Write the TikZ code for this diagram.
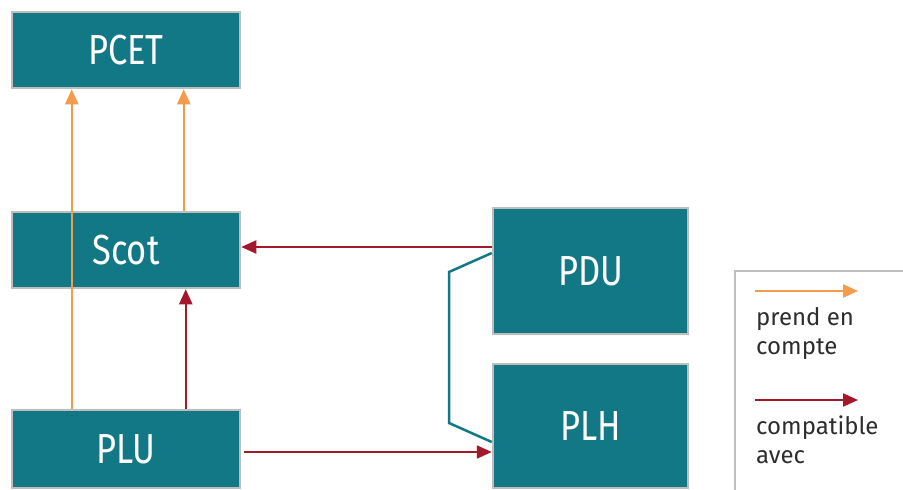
\documentclass[tikz,border=0pt]{standalone}
\usepackage{fontspec}
\setmainfont{Fira Sans}
\newfontfamily\planfont{Fira Sans}[FakeStretch=0.82]
\usetikzlibrary{arrows.meta}
\definecolor{teal}{RGB}{19,120,134}
\definecolor{boxline}{RGB}{190,190,190}
\definecolor{orangeline}{RGB}{244,155,76}
\definecolor{redline}{RGB}{163,24,42}
\definecolor{legtext}{RGB}{45,45,45}
\begin{document}
\begin{tikzpicture}[x=1pt, y=-1pt,
  plan/.style = {draw=boxline, line width=2.5pt, fill=teal, text=white,
    inner sep=0pt, font=\planfont\fontsize{42}{46}\selectfont},
  prend/.style = {draw=orangeline, line width=2.2pt,
    -{Triangle[length=15pt, width=13pt]}},
  compat/.style = {draw=redline, line width=2.2pt,
    -{Triangle[length=15pt, width=13pt]}},
  lien/.style = {draw=teal, line width=2.5pt},
  legende/.style = {anchor=north west, align=left, inner sep=0pt,
    text=legtext, font=\fontsize{24}{29}\selectfont}]
\useasboundingbox (0,0) rectangle (903,490);
% documents
\node[plan, minimum width=228pt, minimum height=76pt] (PCET) at (126,50) {PCET};
\node[plan, minimum width=228pt, minimum height=76pt] (Scot) at (126,250) {Scot};
\node[plan, minimum width=228pt, minimum height=78pt] (PLU) at (126,449) {PLU};
\node[plan, minimum width=195pt, minimum height=126pt] (PDU) at (590.5,271) {PDU};
\node[plan, minimum width=195pt, minimum height=124pt] (PLH) at (590.5,426) {PLH};
% liens
\draw[prend] ([xshift=61pt]PLU.north west) -- ([xshift=61pt]PCET.south west);
\draw[prend] ([xshift=173pt]Scot.north west) -- ([xshift=173pt]PCET.south west);
\draw[compat] ([xshift=175pt]PLU.north west) -- ([xshift=175pt]Scot.south west);
\draw[compat] ([yshift=24pt]PDU.west) -- ([yshift=3pt]Scot.east);
\draw[compat] ([xshift=3pt,yshift=-3pt]PLU.east) -- ([yshift=-26pt]PLH.west);
\draw[lien] ([yshift=18pt]PDU.west) -- (449,272) -- (449,423) -- ([yshift=-16pt]PLH.west);
% legende
\draw[boxline, line width=2pt] (920,271) -- (735,271) -- (735,510);
\coordinate (p1) at (755,291);
\coordinate (p2) at (858,291);
\coordinate (c1) at (755,400);
\coordinate (c2) at (858,400);
\draw[prend] (p1) -- (p2);
\draw[compat] (c1) -- (c2);
\node[legende] (tp) at (756,307) {prend en\\compte};
\node[legende] (tc) at (756,416) {compatible\\avec};
\end{tikzpicture}
\end{document}
